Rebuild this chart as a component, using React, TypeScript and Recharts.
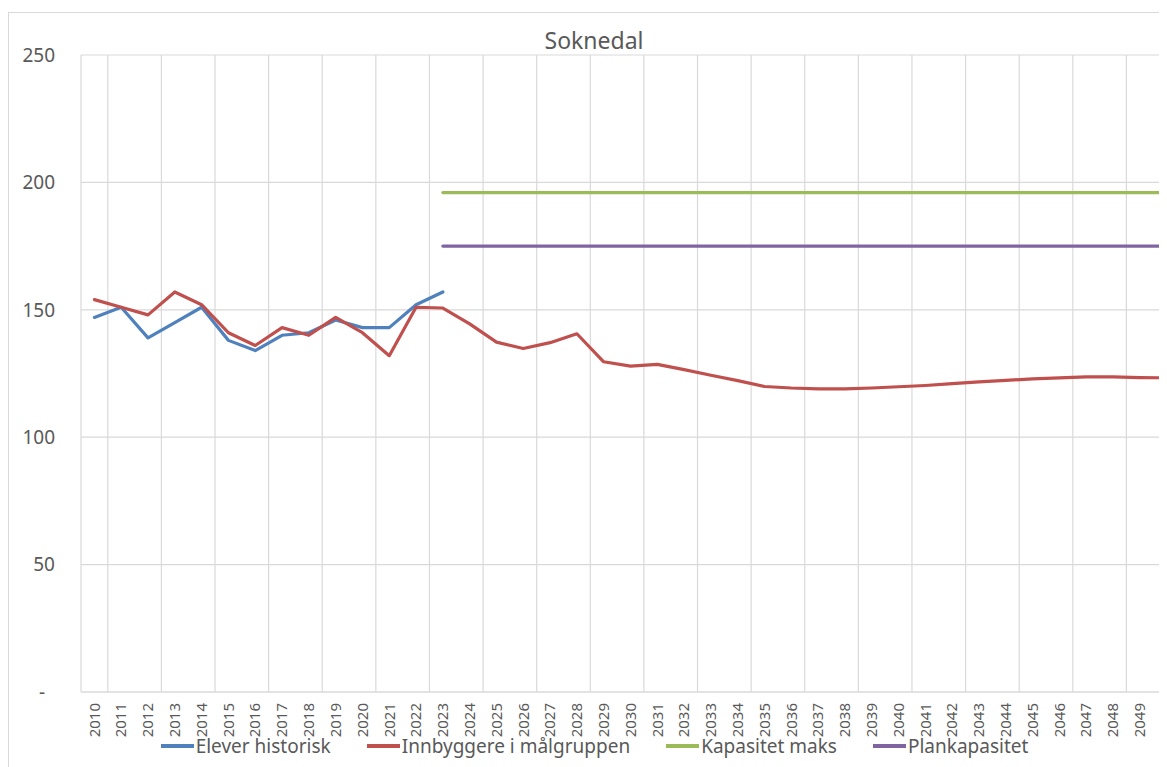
import { LineChart, Line, XAxis, YAxis, CartesianGrid, Legend } from 'recharts'

const FONT = "'Noto Sans', 'Open Sans', sans-serif"
const TEXT_COLOR = '#595959'
const GRID_COLOR = '#d9d9d9'

const YEARS = [
  2010, 2011, 2012, 2013, 2014, 2015, 2016, 2017, 2018, 2019, 2020, 2021, 2022, 2023,
  2024, 2025, 2026, 2027, 2028, 2029, 2030, 2031, 2032, 2033, 2034, 2035, 2036, 2037,
  2038, 2039, 2040, 2041, 2042, 2043, 2044, 2045, 2046, 2047, 2048, 2049, 2050,
]

// 2010–2023
const ELEVER_HISTORISK = [147, 151, 139, 145, 151, 138, 134, 140, 141, 146, 143, 143, 152, 157]

// 2010–2050
const INNBYGGERE = [
  154, 151, 148, 157, 152, 141, 136, 143, 140, 147, 141, 132, 151, 150.7,
  144.5, 137.3, 134.8, 137.1, 140.6, 129.6, 127.9, 128.6, 126.5, 124.3, 122.2, 119.9, 119.3, 119.0,
  119.0, 119.3, 119.8, 120.3, 121.0, 121.7, 122.3, 122.9, 123.3, 123.7, 123.7, 123.4, 123.3,
]

// 2023–2050
const KAPASITET_START = 2023
const KAPASITET_MAKS = [
  196, 196, 196, 196, 196, 196, 196, 196, 196, 196, 196, 196, 196, 196,
  196, 196, 196, 196, 196, 196, 196, 196, 196, 196, 196, 196, 196, 196,
]
const PLANKAPASITET = [
  175, 175, 175, 175, 175, 175, 175, 175, 175, 175, 175, 175, 175, 175,
  175, 175, 175, 175, 175, 175, 175, 175, 175, 175, 175, 175, 175, 175,
]

const Y_TICKS = [0, 50, 100, 150, 200, 250]

// gridlines sit between the categories, like Excel
const GRID_TICKS = [...YEARS.map((y) => y - 0.5), YEARS[YEARS.length - 1] + 0.5]
const X_DOMAIN = [YEARS[0] - 0.5, YEARS[YEARS.length - 1] + 0.5]

const SERIES = [
  { key: 'elever', label: 'Elever historisk', color: '#4F81BD' },
  { key: 'innbyggere', label: 'Innbyggere i målgruppen', color: '#C0504D' },
  { key: 'maks', label: 'Kapasitet maks', color: '#9BBB59' },
  { key: 'plan', label: 'Plankapasitet', color: '#8064A2' },
] as const

const DATA = YEARS.map((year, i) => {
  const k = year - KAPASITET_START
  return {
    year,
    elever: ELEVER_HISTORISK[i] ?? null,
    innbyggere: INNBYGGERE[i] ?? null,
    maks: k >= 0 ? KAPASITET_MAKS[k] : null,
    plan: k >= 0 ? PLANKAPASITET[k] : null,
  }
})

function YearTick({ x, y, payload }: { x?: number; y?: number; payload?: { value: number } }) {
  return (
    <text
      x={x}
      y={y}
      transform={`rotate(-90, ${x}, ${y})`}
      textAnchor="end"
      dy="0.35em"
      fill={TEXT_COLOR}
      fontSize={15}
      fontFamily={FONT}
    >
      {payload?.value}
    </text>
  )
}

function LegendContent() {
  return (
    <div
      style={{
        display: 'flex',
        justifyContent: 'center',
        alignItems: 'center',
        height: 24,
        gap: 36,
        fontFamily: FONT,
        fontSize: 19,
        color: TEXT_COLOR,
        whiteSpace: 'nowrap',
      }}
    >
      {SERIES.map((s) => (
        <div key={s.key} style={{ display: 'flex', alignItems: 'center' }}>
          <span style={{ display: 'inline-block', width: 33, height: 4, background: s.color, marginRight: 2 }} />
          <span>{s.label}</span>
        </div>
      ))}
    </div>
  )
}

export default function App() {
  return (
    <div style={{ paddingTop: 4 }}>
      <div style={{ width: 1159, height: 755, overflow: 'hidden' }}>
        <div style={{ width: 1190, height: 770, border: `1px solid ${GRID_COLOR}`, background: '#fff' }}>
          <LineChart
            width={1190}
            height={770}
            data={DATA}
            margin={{ top: 42, right: 19, bottom: 7, left: 0 }}
          >
            <text x={585} y={36} textAnchor="middle" fill={TEXT_COLOR} fontSize={23} fontFamily={FONT}>
              Soknedal
            </text>
            <CartesianGrid xAxisId="grid" stroke={GRID_COLOR} strokeWidth={1.2} />
            <XAxis
              xAxisId="year"
              type="number"
              dataKey="year"
              domain={X_DOMAIN}
              ticks={YEARS}
              interval={0}
              height={60}
              tick={<YearTick />}
              tickLine={false}
              tickSize={0}
              tickMargin={11}
              axisLine={{ stroke: GRID_COLOR, strokeWidth: 1.2 }}
            />
            <XAxis
              xAxisId="grid"
              type="number"
              dataKey="year"
              domain={X_DOMAIN}
              ticks={GRID_TICKS}
              height={0}
              hide
            />
            <YAxis
              domain={[0, 250]}
              ticks={Y_TICKS}
              width={72}
              axisLine={false}
              tickLine={false}
              tickSize={0}
              tickMargin={26}
              tick={{ fill: TEXT_COLOR, fontSize: 19, fontFamily: FONT }}
              tickFormatter={(v: number) => (v === 0 ? '-\u00a0\u00a0' : String(v))}
            />
            <Legend content={<LegendContent />} verticalAlign="bottom" wrapperStyle={{ top: 721, bottom: 'auto' }} />
            {SERIES.map((s) => (
              <Line
                key={s.key}
                xAxisId="year"
                dataKey={s.key}
                name={s.label}
                stroke={s.color}
                strokeWidth={3.2}
                strokeLinejoin="round"
                strokeLinecap="round"
                dot={false}
                activeDot={false}
                connectNulls={false}
                isAnimationActive={false}
              />
            ))}
          </LineChart>
        </div>
      </div>
    </div>
  )
}
